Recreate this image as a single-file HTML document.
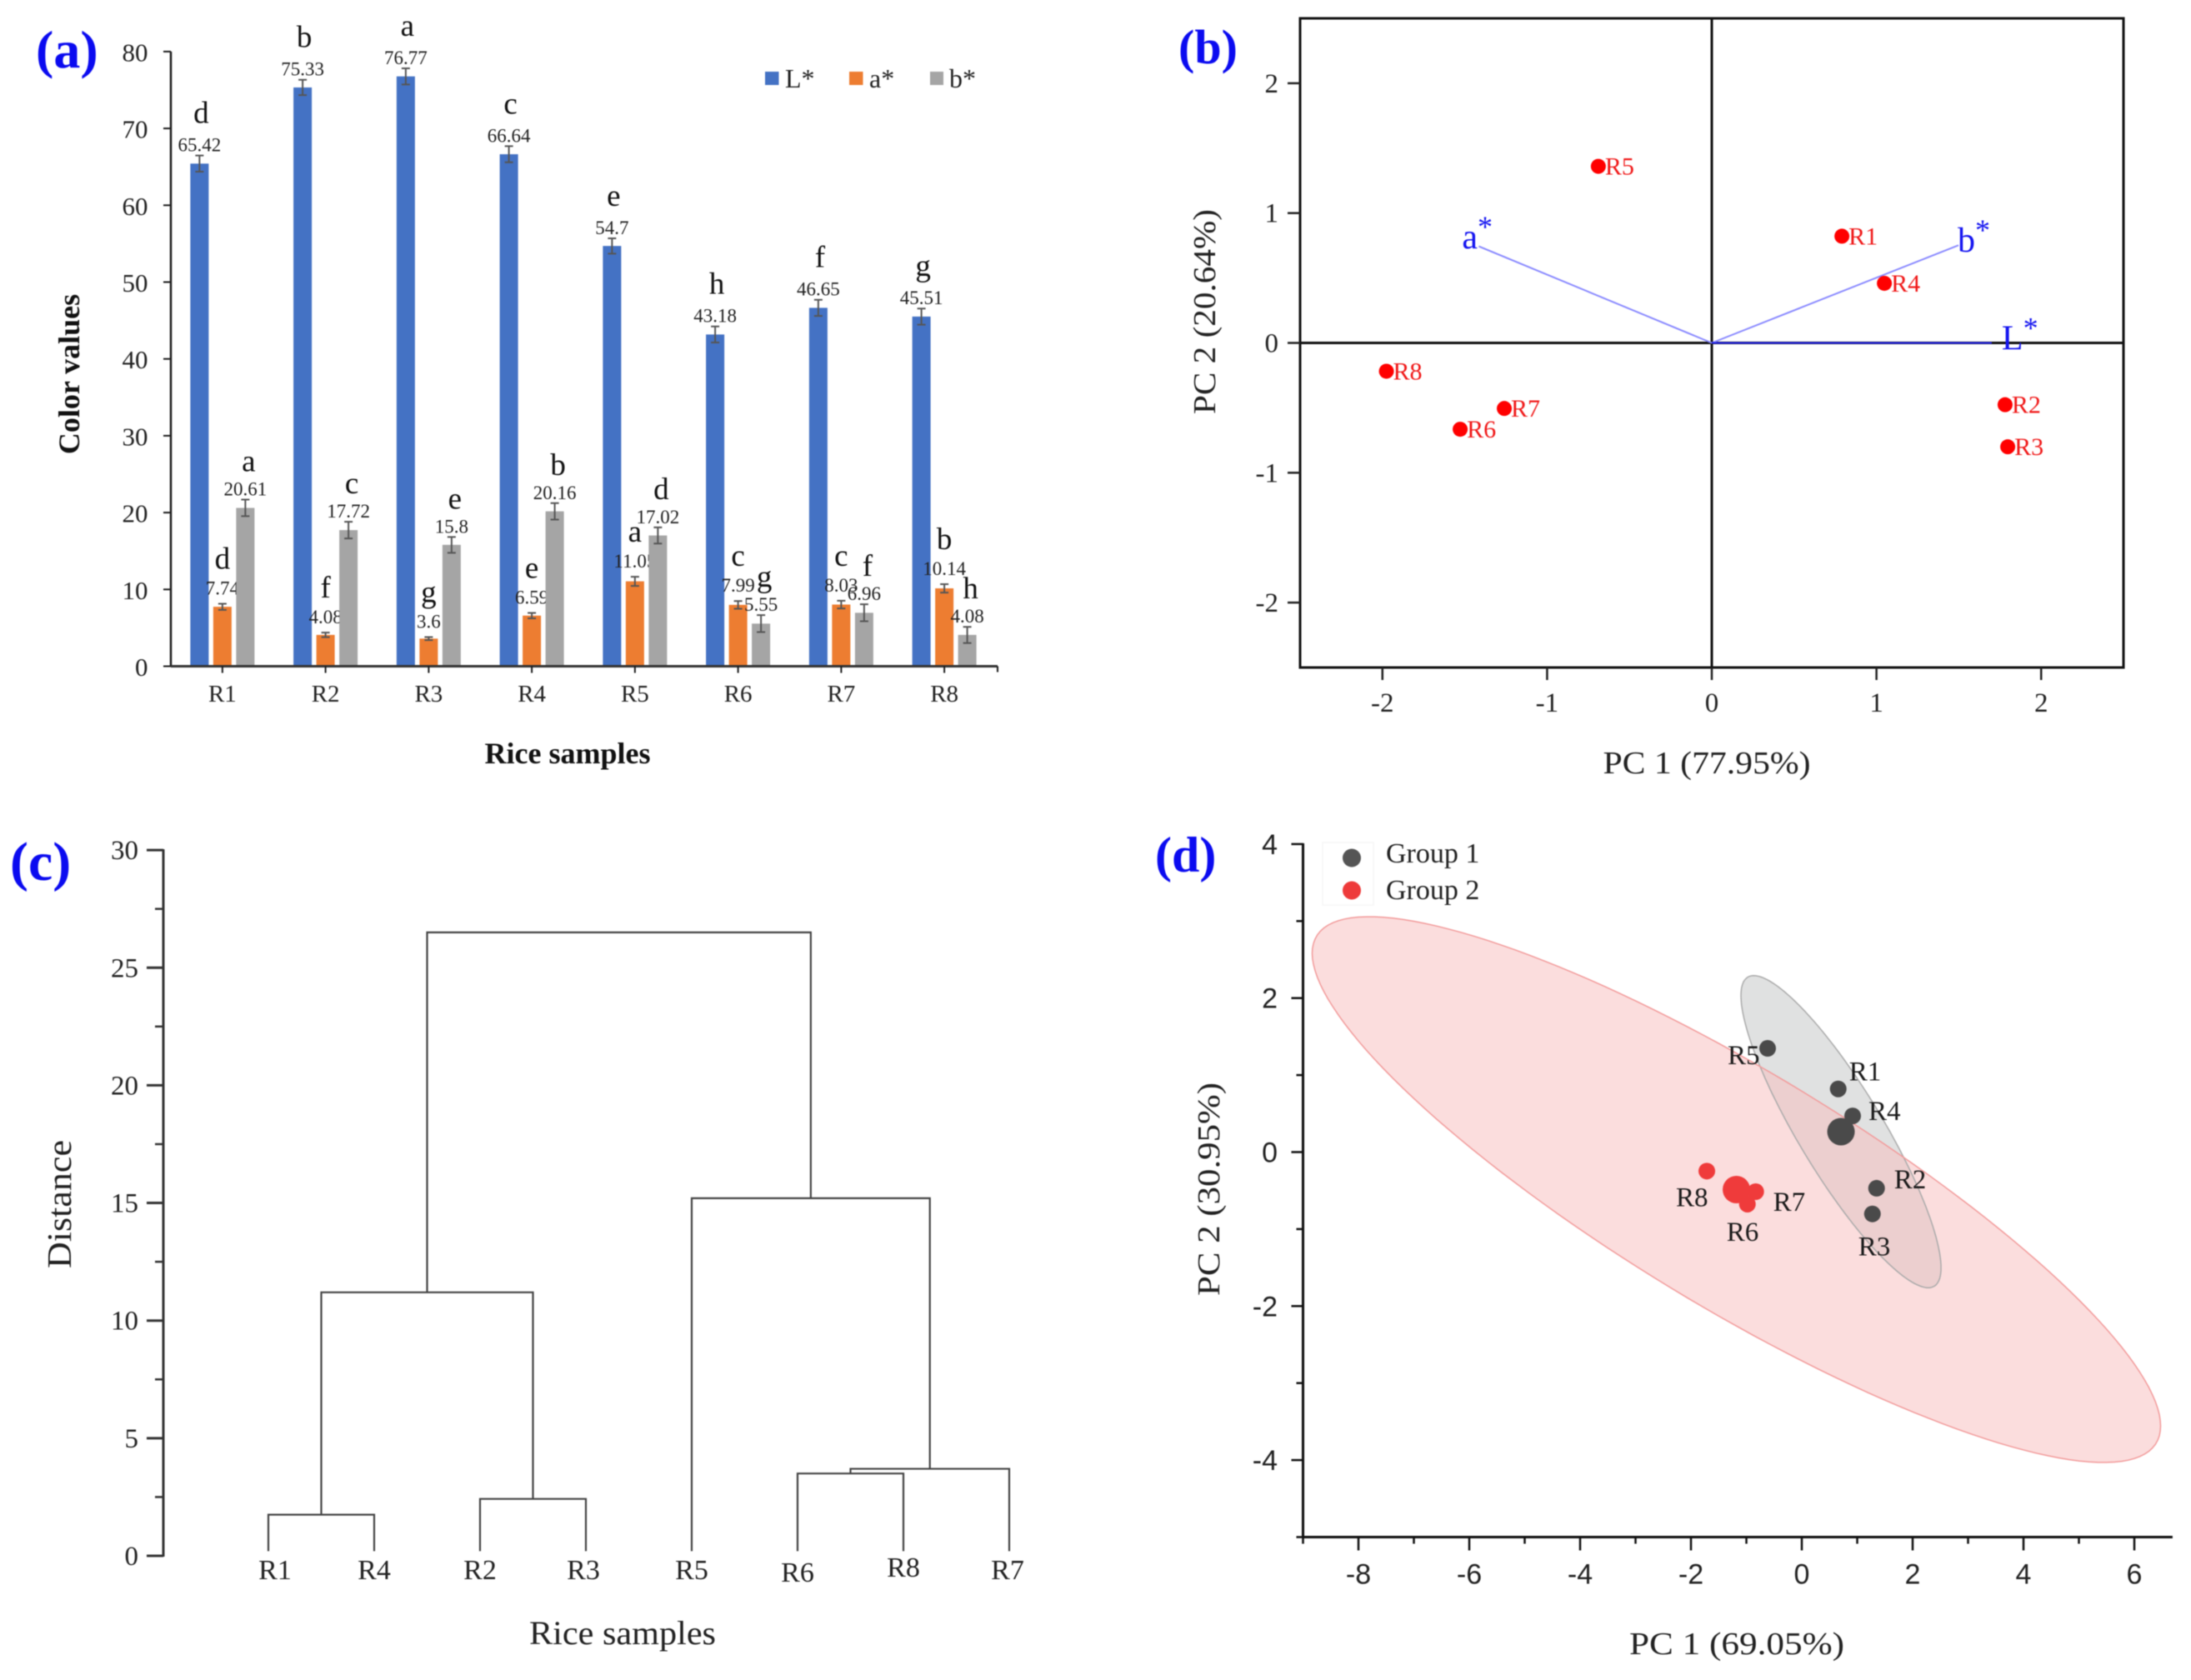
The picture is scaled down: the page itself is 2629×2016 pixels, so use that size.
<!DOCTYPE html>
<html lang="en">
<head>
<meta charset="utf-8">
<title>Rice colour analysis: bar chart, PCA biplot, dendrogram and PCA score plot</title>
<style>
html,body{margin:0;padding:0;background:#fff;}
body{width:2629px;height:2016px;overflow:hidden;}
svg{display:block;filter:blur(0.6px);font-family:"Liberation Serif",serif;fill:#1a1a1a;}
.panel-tag{font-size:60px;font-weight:bold;fill:#0b0bf0;}
.bold-title{font-size:36px;font-weight:bold;fill:#111;text-anchor:middle;}
.title{font-size:38px;fill:#222;text-anchor:middle;}
.legend-text{font-size:32px;fill:#222;}
.legend-text-d{font-size:34px;fill:#222;}
</style>
</head>
<body>
<svg id="figure" xmlns="http://www.w3.org/2000/svg" width="2629" height="2016" viewBox="0 0 2629 2016">
  <rect x="0" y="0" width="2629" height="2016" fill="#fff"/>

  <g id="panel-a">
    <text class="panel-tag" x="43" y="81" style="font-size:64px">(a)</text>
    <text class="bold-title" transform="translate(95,449) rotate(-90)">Color values</text>
    <text class="bold-title" x="681" y="916">Rice samples</text>
    <g>
      <rect x="918" y="86" width="16.5" height="16" fill="#4472c4"/>
      <text class="legend-text" x="942" y="105">L*</text>
      <rect x="1019" y="86" width="16.5" height="16" fill="#ed7d31"/>
      <text class="legend-text" x="1043" y="105">a*</text>
      <rect x="1116" y="86" width="16" height="16" fill="#a5a5a5"/>
      <text class="legend-text" x="1139" y="105">b*</text>
    </g>
  </g>

  <g id="panel-b">
    <text class="panel-tag" x="1414" y="76" style="font-size:58px">(b)</text>
    <text class="title" x="2048" y="928" textLength="249" lengthAdjust="spacingAndGlyphs">PC 1 (77.95%)</text>
    <text class="title" transform="translate(1458,374) rotate(-90)" textLength="246" lengthAdjust="spacingAndGlyphs">PC 2 (20.64%)</text>
  </g>

  <g id="panel-c">
    <text class="panel-tag" x="12" y="1056" style="font-size:66px">(c)</text>
    <text class="title" x="747" y="1973" textLength="224" lengthAdjust="spacingAndGlyphs" style="font-size:40px">Rice samples</text>
    <text class="title" transform="translate(85,1445) rotate(-90)" textLength="154" lengthAdjust="spacingAndGlyphs" style="font-size:41px">Distance</text>
  </g>

  <g id="panel-d">
    <text class="panel-tag" x="1386" y="1046">(d)</text>
    <text class="title" x="2084" y="1985" textLength="258" lengthAdjust="spacingAndGlyphs">PC 1 (69.05%)</text>
    <text class="title" transform="translate(1463,1427) rotate(-90)" textLength="256" lengthAdjust="spacingAndGlyphs">PC 2 (30.95%)</text>
  </g>
</svg>

<script>
/* ---------- panel (a) data ---------- */
const samples = ['R1','R2','R3','R4','R5','R6','R7','R8'];
const lValues = [65.42,75.33,76.77,66.64,54.7,43.18,46.65,45.51];
const aValues = [7.74,4.08,3.6,6.59,11.05,7.99,8.03,10.14];
const bValues = [20.61,17.72,15.8,20.16,17.02,5.55,6.96,4.08];
const lErrors = [1.05,1.0,1.05,1.05,1.0,1.05,1.05,1.05];
const aErrors = [0.4,0.3,0.2,0.35,0.6,0.5,0.5,0.55];
const bErrors = [1.08,1.08,1.03,1.07,1.05,1.1,1.1,1.05];
const lLetters = ['d','b','a','c','e','h','f','g'];
const aLetters = ['d','f','g','e','a','c','c','b'];
const bLetters = ['a','c','e','b','d','g','f','h'];
const colorTicks = [0,10,20,30,40,50,60,70,80];

/* ---------- panel (b) data ---------- */
const biplotNames = ['R1','R2','R3','R4','R5','R6','R7','R8'];
const biplotPc1 = [0.79,1.781,1.797,1.048,-0.689,-1.528,-1.26,-1.976];
const biplotPc2 = [0.822,-0.476,-0.80,0.459,1.36,-0.665,-0.505,-0.218];
const loadingNames = ['a','b','L'];
const loadingPc1 = [-1.415,1.498,1.7];
const loadingPc2 = [0.744,0.752,0.0];
const biplotTicksX = [-2,-1,0,1,2];
const biplotTicksY = [-2,-1,0,1,2];

/* ---------- panel (c) data ---------- */
const leafOrder = ['R1','R4','R2','R3','R5','R6','R8','R7'];
const mergeLeft = ['R1','R2','R6','R6+R8','R1+R4','R5','R1+R4+R2+R3'];
const mergeRight = ['R4','R3','R8','R7','R2+R3','R6+R8+R7','R5+R6+R8+R7'];
const mergeHeight = [1.75,2.42,3.5,3.7,11.2,15.2,26.5];
const distanceTicks = [0,5,10,15,20,25,30];
const distanceMinorTicks = [2.5,7.5,12.5,17.5,22.5,27.5];

/* ---------- panel (d) data ---------- */
const group1Names = ['R1','R2','R3','R4','R5'];
const group1Pc1 = [0.657,1.349,1.274,0.917,-0.617];
const group1Pc2 = [0.82,-0.47,-0.803,0.47,1.347];
const group2Names = ['R6','R7','R8'];
const group2Pc1 = [-0.982,-0.832,-1.714];
const group2Pc2 = [-0.676,-0.514,-0.247];
const centroidPc1 = [0.707,-1.18];
const centroidPc2 = [0.265,-0.487];
const spreadPc1 = [1.805,7.654];
const spreadPc2 = [2.027,3.544];
const spreadCorrelation = [-0.872,-0.866];
const scoreTicksX = [-8,-6,-4,-2,0,2,4,6];
const scoreMinorTicksX = [-9,-7,-5,-3,-1,1,3,5];
const scoreTicksY = [-4,-2,0,2,4];
const scoreMinorTicksY = [-5,-3,-1,1,3];

/* ---------- helpers ---------- */
const NS = 'http://www.w3.org/2000/svg';
function mk(parent, tag, attrs, text) {
  const el = document.createElementNS(NS, tag);
  for (const k in attrs) el.setAttribute(k, attrs[k]);
  if (text !== undefined) el.textContent = text;
  parent.appendChild(el);
  return el;
}
function ln(parent, x1, y1, x2, y2, stroke, width) {
  return mk(parent, 'line', {x1: x1, y1: y1, x2: x2, y2: y2, stroke: stroke, 'stroke-width': width});
}
const panelA = document.getElementById('panel-a');
const panelB = document.getElementById('panel-b');
const panelC = document.getElementById('panel-c');
const panelD = document.getElementById('panel-d');

/* ---------- panel (a) ---------- */
(function () {
  const axisColor = '#1c1c1c';
  const left = 205, right = 1197, bandWidth = 123.75, barWidth = 22;
  const xBand = i => left + bandWidth * (i + 0.5);
  const yVal = v => 799.5 - 9.22 * v;
  const series = [
    {key: 'l', values: lValues, errors: lErrors, letters: lLetters, color: '#4472c4', offset: -27.5, gap: 5, rise: 34, letterDx: 2},
    {key: 'a', values: aValues, errors: aErrors, letters: aLetters, color: '#ed7d31', offset: 0, gap: 11, rise: 31, letterDx: 0},
    {key: 'b', values: bValues, errors: bErrors, letters: bLetters, color: '#a5a5a5', offset: 27.5, gap: 5, rise: 29, letterDx: 4}
  ];
  series.forEach(s => {
    s.values.forEach((v, i) => {
      const cx = xBand(i) + s.offset;
      const bar = mk(panelA, 'rect', {x: cx - barWidth / 2, y: yVal(v), width: barWidth, height: yVal(0) - yVal(v), fill: s.color});
      
      
      const top = yVal(v + s.errors[i]), bottom = yVal(v - s.errors[i]);
      const err = mk(panelA, 'path', {d: 'M' + (cx - 5) + ' ' + top + 'H' + (cx + 5) + 'M' + cx + ' ' + top + 'V' + bottom + 'M' + (cx - 5) + ' ' + bottom + 'H' + (cx + 5), stroke: '#555', 'stroke-width': 2, fill: 'none'});
      
      
      const valueBase = top - s.gap;
      const valueText = mk(panelA, 'text', {x: cx, y: valueBase, 'text-anchor': 'middle', 'font-size': 23, fill: '#222'}, String(v));
      
      
      const letter = mk(panelA, 'text', {x: cx + s.letterDx, y: valueBase - s.rise, 'text-anchor': 'middle', 'font-size': 37, fill: '#111'}, s.letters[i]);
      
      
    });
  });
  const yAxis = ln(panelA, left, yVal(80), left, yVal(0) + 1, axisColor, 2.5);
  
  
  const xAxis = ln(panelA, left, yVal(0), right, yVal(0), '#333', 3);
  
  
  const endTick = ln(panelA, right, yVal(0), right, yVal(0) + 7, axisColor, 2);
  
  
  colorTicks.forEach(t => {
    const tick = ln(panelA, left - 9, yVal(t), left, yVal(t), axisColor, 2);
    
    
    const label = mk(panelA, 'text', {x: 177.5, y: yVal(t) + 11.5, 'text-anchor': 'end', 'font-size': 31, fill: '#222'}, String(t));
    
    
  });
  samples.forEach((name, i) => {
    const tick = ln(panelA, xBand(i), yVal(0), xBand(i), yVal(0) + 8, axisColor, 2);
    
    
    const label = mk(panelA, 'text', {x: xBand(i), y: 842, 'text-anchor': 'middle', 'font-size': 29, fill: '#222'}, name);
    
    
  });
})();

/* ---------- panel (b) ---------- */
(function () {
  const xPc = v => 2054 + 197.6 * v;
  const yPc = v => 411.5 - 155.8 * v;
  const box = mk(panelB, 'rect', {x: xPc(-2.5), y: yPc(2.5), width: xPc(2.5) - xPc(-2.5), height: yPc(-2.5) - yPc(2.5), fill: 'none', stroke: '#111', 'stroke-width': 3});
  
  
  const zeroV = ln(panelB, xPc(0), yPc(2.5), xPc(0), yPc(-2.5), '#111', 3);
  
  
  const zeroH = ln(panelB, xPc(-2.5), yPc(0), xPc(2.5), yPc(0), '#111', 3);
  
  
  biplotTicksX.forEach(t => {
    const tick = ln(panelB, xPc(t), yPc(-2.5), xPc(t), yPc(-2.5) + 15, '#222', 2.5);
    
    
    const label = mk(panelB, 'text', {x: xPc(t), y: 854, 'text-anchor': 'middle', 'font-size': 33, fill: '#222'}, String(t));
    
    
  });
  biplotTicksY.forEach(t => {
    const tick = ln(panelB, xPc(-2.5) - 15, yPc(t), xPc(-2.5), yPc(t), '#222', 2.5);
    
    
    const label = mk(panelB, 'text', {x: 1534, y: yPc(t) + 11, 'text-anchor': 'end', 'font-size': 33, fill: '#222'}, String(t));
    
    
  });
  const loadingLabelDx = {a: -20, b: -1, L: 12};
  const loadingLabelDy = {a: 2.5, b: 7.5, L: 8};
  const loadingFont = {a: 42, b: 42, L: 42};
  const loadingStroke = {a: '#8a8aff', b: '#8a8aff', L: '#2020e8'};
  loadingNames.forEach((name, i) => {
    const x = xPc(loadingPc1[i]), y = yPc(loadingPc2[i]);
    const vector = ln(panelB, xPc(0), yPc(0), x, y, loadingStroke[name], 2);
    
    
    const label = mk(panelB, 'text', {x: x + loadingLabelDx[name], y: y + loadingLabelDy[name], 'font-size': loadingFont[name], fill: '#1414f0'}, name);
    
    
    mk(label, 'tspan', {dy: -14, 'font-size': 36}, '*');
  });
  biplotNames.forEach((name, i) => {
    const x = xPc(biplotPc1[i]), y = yPc(biplotPc2[i]);
    const dot = mk(panelB, 'circle', {cx: x, cy: y, r: 9, fill: '#f00'});
    
    
    const label = mk(panelB, 'text', {x: x + 8, y: y + 10, 'font-size': 30, fill: '#f01818'}, name);
    
    
  });
})();

/* ---------- panel (c) ---------- */
(function () {
  const axisColor = '#333';
  const axisX = 196;
  const xLeaf = i => 322 + 127 * i;
  const yDist = v => 1867 - 28.23 * v;
  const leafBottom = yDist(0.2);
  const yAxis = ln(panelC, axisX, yDist(30) - 1, axisX, yDist(0) + 1, axisColor, 3);
  
  
  distanceTicks.forEach(t => {
    const tick = ln(panelC, axisX - 20, yDist(t), axisX, yDist(t), axisColor, 3);
    
    
    const label = mk(panelC, 'text', {x: 166, y: yDist(t) + 11, 'text-anchor': 'end', 'font-size': 33, fill: '#222'}, String(t));
    
    
  });
  distanceMinorTicks.forEach(t => {
    const tick = ln(panelC, axisX - 10, yDist(t), axisX, yDist(t), axisColor, 2.5);
    
    
  });
  const nodes = {};
  const leafNudgeX = {R1: 8, R3: -3, R5: 0, R7: -2};
  const leafNudgeY = {R6: 3, R8: -3};
  leafOrder.forEach((name, i) => {
    nodes[name] = {x: xLeaf(i), y: leafBottom};
    const label = mk(panelC, 'text', {x: xLeaf(i) + (leafNudgeX[name] || 0), y: 1895 + (leafNudgeY[name] || 0), 'text-anchor': 'middle', 'font-size': 34, fill: '#222'}, name);
    
    
  });
  mergeHeight.forEach((h, i) => {
    const a = nodes[mergeLeft[i]], b = nodes[mergeRight[i]];
    const y = yDist(h);
    const link = mk(panelC, 'path', {d: 'M' + a.x + ' ' + a.y + 'V' + y + 'H' + b.x + 'V' + b.y, fill: 'none', stroke: '#444', 'stroke-width': 2.2});
    
    
    nodes[mergeLeft[i] + '+' + mergeRight[i]] = {x: (a.x + b.x) / 2, y: y};
  });
})();

/* ---------- panel (d) ---------- */
(function () {
  const axisColor = '#111';
  const xPc = v => 2162 + 66.5 * v;
  const yPc = v => 1382.5 - 92.4 * v;
  function ellipsePath(g) {
    let d = '';
    const steps = 160;
    const r = spreadCorrelation[g];
    for (let s = 0; s <= steps; s++) {
      const t = 2 * Math.PI * s / steps;
      const px = centroidPc1[g] + spreadPc1[g] * Math.cos(t);
      const py = centroidPc2[g] + spreadPc2[g] * (r * Math.cos(t) + Math.sqrt(1 - r * r) * Math.sin(t));
      d += (s === 0 ? 'M' : 'L') + xPc(px).toFixed(1) + ' ' + yPc(py).toFixed(1);
    }
    return d + 'Z';
  }
  const grayPath = ellipsePath(0);
  const redPath = ellipsePath(1);
  const clip = mk(panelD, 'clipPath', {id: 'red-ellipse-clip'});
  mk(clip, 'path', {d: redPath});
  const grayFill = mk(panelD, 'path', {d: grayPath, fill: '#e0e1e1'});
  
  
  const redFill = mk(panelD, 'path', {d: redPath, fill: '#fbdddd'});
  
  
  const overlap = mk(panelD, 'path', {d: grayPath, fill: '#eccfcf', 'clip-path': 'url(#red-ellipse-clip)'});
  
  
  const grayOutline = mk(panelD, 'path', {d: grayPath, fill: 'none', stroke: '#aaa', 'stroke-width': 1.5});
  
  
  const redOutline = mk(panelD, 'path', {d: redPath, fill: 'none', stroke: '#f29a9a', 'stroke-width': 1.5});
  
  

  const legend = mk(panelD, 'g', {});
  
  
  const legendFrame = mk(legend, 'rect', {x: 1587, y: 1011, width: 61, height: 75, fill: 'none', stroke: '#f6f6f6', 'stroke-width': 1.5});
  
  
  const marker1 = mk(legend, 'circle', {cx: 1622, cy: 1029.5, r: 11, fill: '#555'});
  
  
  const legendText1 = mk(legend, 'text', {class: 'legend-text-d', x: 1663, y: 1035}, 'Group 1');
  
  
  const marker2 = mk(legend, 'circle', {cx: 1622, cy: 1068.5, r: 11, fill: '#ee3a3a'});
  
  
  const legendText2 = mk(legend, 'text', {class: 'legend-text-d', x: 1663, y: 1079}, 'Group 2');
  
  

  const yAxis = ln(panelD, xPc(-9), yPc(4) - 1, xPc(-9), yPc(-5) + 1, axisColor, 3);
  
  
  const xAxis = ln(panelD, xPc(-9), yPc(-5), xPc(6.69), yPc(-5), axisColor, 3);
  
  
  scoreTicksX.forEach(t => {
    const tick = ln(panelD, xPc(t), yPc(-5), xPc(t), yPc(-5) + 16, axisColor, 2.5);
    
    
    const label = mk(panelD, 'text', {x: xPc(t), y: 1900.5, 'text-anchor': 'middle', 'font-size': 34, 'font-family': '"Liberation Sans", sans-serif', fill: '#222'}, String(t));
    
    
  });
  scoreMinorTicksX.forEach(t => {
    const tick = ln(panelD, xPc(t), yPc(-5), xPc(t), yPc(-5) + 8, axisColor, 2.5);
    
    
  });
  scoreTicksY.forEach(t => {
    const tick = ln(panelD, xPc(-9) - 14, yPc(t), xPc(-9), yPc(t), axisColor, 2.5);
    
    
    const label = mk(panelD, 'text', {x: 1533, y: yPc(t) + 12, 'text-anchor': 'end', 'font-size': 34, 'font-family': '"Liberation Sans", sans-serif', fill: '#222'}, String(t));
    
    
  });
  scoreMinorTicksY.forEach(t => {
    const tick = ln(panelD, xPc(-9) - 8, yPc(t), xPc(-9), yPc(t), axisColor, 2.5);
    
    
  });
  const centroidColors = ['#4a4a4a', '#ef3b3b'];
  const centroidNames = ['group-1', 'group-2'];
  centroidPc1.forEach((v, g) => {
    const centroid = mk(panelD, 'circle', {cx: xPc(v), cy: yPc(centroidPc2[g]), r: 16.5, fill: centroidColors[g]});
    
    
  });
  const labelDx = {R1: 13, R2: 21, R3: -17, R4: 19, R5: -48, R6: -25, R7: 21, R8: -37};
  const labelDy = {R1: -10, R2: 0, R3: 50, R4: 5, R5: 19, R6: 44, R7: 23, R8: 42};
  function drawGroup(names, pc1, pc2, color, groupName) {
    names.forEach((name, i) => {
      const x = xPc(pc1[i]), y = yPc(pc2[i]);
      const dot = mk(panelD, 'circle', {cx: x, cy: y, r: 10, fill: color});
      
      
      const label = mk(panelD, 'text', {x: x + labelDx[name], y: y + labelDy[name], 'font-size': 33, fill: '#1a1a1a'}, name);
      
      
    });
  }
  drawGroup(group1Names, group1Pc1, group1Pc2, centroidColors[0], 'group-1');
  drawGroup(group2Names, group2Pc1, group2Pc2, centroidColors[1], 'group-2');
})();
</script>
</body>
</html>
